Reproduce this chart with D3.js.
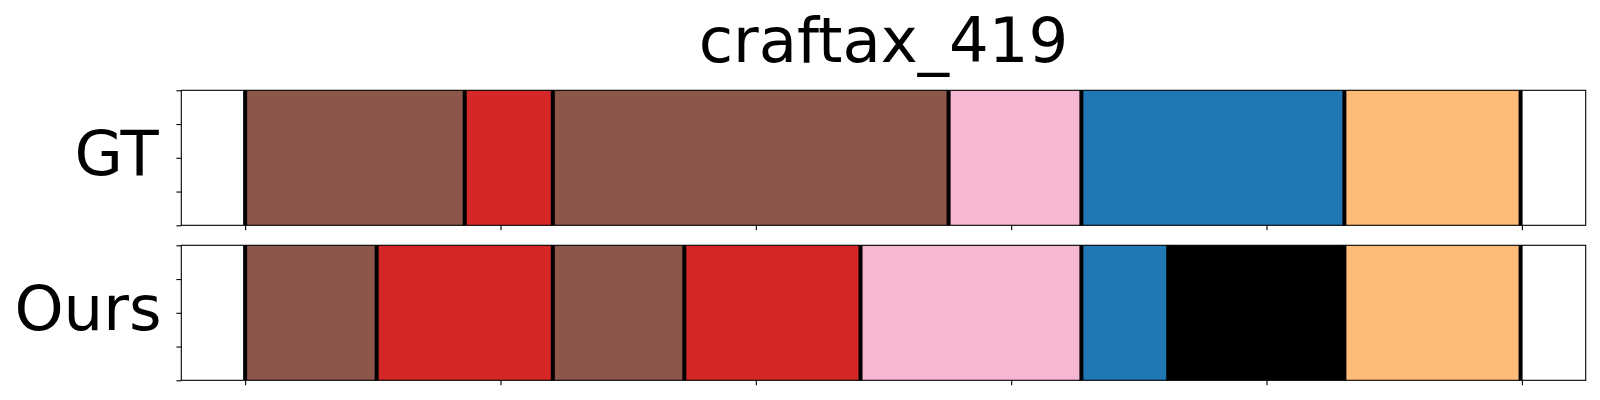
<!DOCTYPE html>
<html>
<head>
<meta charset="utf-8">
<script src="https://cdn.jsdelivr.net/npm/d3@7"></script>
<style>
  html, body { margin: 0; padding: 0; background: #fff; }
  svg { display: block; }
  text { font-family: "DejaVu Sans", sans-serif; fill: #000; }
</style>
</head>
<body>
<svg id="chart" width="1600" height="400"></svg>
<script>
// ---- data ----
const title = "craftax_419";
const rowLabels = ["GT", "Ours"];

const gtStarts  = [0, 86, 120.5, 275.5, 327.5, 430.5];
const gtEnds    = [86, 120.5, 275.5, 327.5, 430.5, 499.5];
const gtClasses = ["brown", "red", "brown", "pink", "blue", "orange"];

const oursStarts  = [0, 51.5, 120.5, 172, 241, 327.5, 361.5, 430.5];
const oursEnds    = [51.5, 120.5, 172, 241, 327.5, 361.5, 430.5, 499.5];
const oursClasses = ["brown", "red", "brown", "red", "pink", "blue", "black", "orange"];

const classNames  = ["brown", "red", "pink", "blue", "orange", "black"];
const classColors = ["#8c564b", "#d62728", "#f7b6d2", "#1f77b4", "#ffbb78", "#000000"];

const xTickValues = [0, 100, 200, 300, 400, 500];
const yTickValues = [0, 0.25, 0.5, 0.75, 1];
const xDomain = [-25, 525];

// ---- layout ----
const svg = d3.select("#chart");
const left = 181.3, right = 1585.7;
const panels = [
  { top: 90.3, bottom: 225.3, starts: gtStarts, ends: gtEnds, classes: gtClasses, label: rowLabels[0], labelX: 158.8, labelY: 175 },
  { top: 245.3, bottom: 380.3, starts: oursStarts, ends: oursEnds, classes: oursClasses, label: rowLabels[1], labelX: 161.5, labelY: 330 }
];

const x = d3.scaleLinear().domain(xDomain).range([left, right]);
const color = d3.scaleOrdinal().domain(classNames).range(classColors);

svg.append("text")
  .attr("x", (left + right) / 2)
  .attr("y", 62)
  .attr("text-anchor", "middle")
  .style("font-size", "62.5px")
  .text(title);

panels.forEach(p => {
  const y = d3.scaleLinear().domain([0, 1]).range([p.bottom, p.top]);
  const g = svg.append("g");
  const segs = p.starts.map((s, i) => ({ s, e: p.ends[i], c: p.classes[i] }));

  g.selectAll("rect.seg").data(segs).enter().append("rect")
    .attr("class", "seg")
    .attr("x", d => x(d.s))
    .attr("width", d => x(d.e) - x(d.s))
    .attr("y", y(1))
    .attr("height", y(0) - y(1))
    .attr("fill", d => color(d.c));

  const bounds = p.starts.concat([p.ends[p.ends.length - 1]]);
  g.selectAll("line.bnd").data(bounds).enter().append("line")
    .attr("class", "bnd")
    .attr("x1", d => x(d)).attr("x2", d => x(d))
    .attr("y1", y(1)).attr("y2", y(0))
    .attr("stroke", "#000")
    .attr("stroke-width", 4);

  // axes
  const yAxis = d3.axisLeft(y).tickValues(yTickValues).tickFormat("").tickSize(4.9).tickSizeOuter(0);
  const xAxis = d3.axisBottom(x).tickValues(xTickValues).tickFormat("").tickSize(4.9).tickSizeOuter(0);
  const ya = g.append("g").attr("transform", `translate(${left},0)`).call(yAxis);
  const xa = g.append("g").attr("transform", `translate(0,${p.bottom})`).call(xAxis);
  [ya, xa].forEach(a => {
    a.select(".domain").remove();
    a.selectAll(".tick line").attr("stroke", "#000").attr("stroke-width", 1.1);
  });

  // spines
  g.append("rect")
    .attr("x", left).attr("y", p.top)
    .attr("width", right - left).attr("height", p.bottom - p.top)
    .attr("fill", "none").attr("stroke", "#000").attr("stroke-width", 1.1);

  svg.append("text")
    .attr("x", p.labelX)
    .attr("y", p.labelY)
    .attr("text-anchor", "end")
    .style("font-size", "62.5px")
    .text(p.label);
});
</script>
</body>
</html>
